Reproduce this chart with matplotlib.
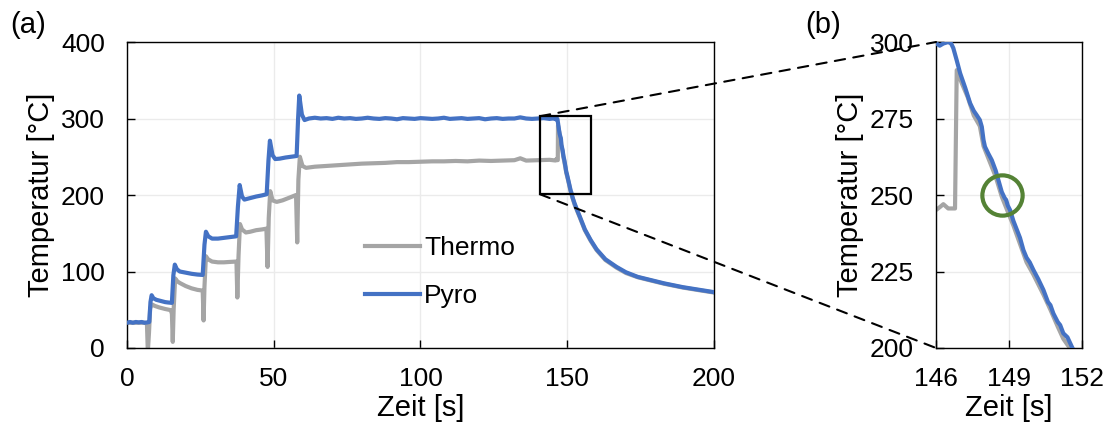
import numpy as np
import matplotlib
matplotlib.use("Agg")
import matplotlib.pyplot as plt
from matplotlib.patches import Rectangle, ConnectionPatch

plt.rcParams['font.family'] = ['Liberation Sans', 'DejaVu Sans']
plt.rcParams['font.size'] = 19

# Pyro (blue)
pyro_t = [0, 1, 2, 3, 4, 5, 6, 7, 7.6,
          8.0, 8.4, 9.0, 10, 11, 12, 13, 14, 15.3,
          15.8, 16.3, 17, 18, 20, 22, 24, 25.8,
          26.4, 26.9, 27.7, 29, 31, 33, 35, 37.2,
          37.8, 38.4, 39.2, 40, 42, 44, 46, 47.6,
          48.2, 48.7, 49.6, 50.5, 52, 54, 56, 57.8,
          58.3, 58.7, 59.6, 60.5, 62, 64, 66, 68, 70, 72, 74, 76, 78, 80,
          82, 84, 86, 88, 90, 92, 94, 96, 98, 100, 102, 104, 106, 108, 110,
          112, 114, 116, 118, 120, 122, 124, 126, 128, 130, 132, 134, 136,
          138, 140, 142, 144, 145,
          146.0, 146.15, 146.3, 146.5, 146.62, 146.71, 146.85, 146.99, 147.2,
          147.4, 147.55, 147.67, 147.8, 147.88, 147.95, 148.01, 148.15, 148.29,
          148.45, 148.56, 148.7, 148.82, 148.88, 148.95, 149.04, 149.18, 149.32,
          149.45, 149.59, 149.72, 149.85, 150.0, 150.2, 150.41, 150.6, 150.7,
          150.82, 151.0, 151.1, 151.23, 151.4, 151.58, 151.8, 152.5,
          153.4, 154.3, 156, 158, 160, 163, 166.8, 170, 174, 178.2, 183,
          189.4, 195, 200]
pyro_T = [33, 34, 33, 34, 33.5, 34, 33, 33.5, 34,
          60, 69, 65, 63, 62, 61, 60, 59.5, 59,
          95, 109, 103, 100, 98.5, 97, 96, 95.5,
          135, 152, 146, 143, 143, 144, 145, 146,
          185, 213, 198, 194, 196, 198, 199.5, 201,
          245, 271, 252, 247, 247.5, 249, 250, 251,
          300, 330, 305, 298, 300, 301, 300, 300.5, 299.5, 301, 300, 300.5, 299.5, 300,
          301, 300, 299.5, 300.5, 300, 299, 300.5, 300, 299.5, 300.5, 300, 299.5, 300, 301, 299.5,
          300, 300.5, 299.5, 300, 300.5, 299, 300, 300.5, 299.5, 300, 300, 301.5, 300,
          299.5, 300, 300.5, 299.5, 300,
          299.6, 298.8, 299.5, 300, 299.5, 298, 294, 289.8, 285,
          280, 277.5, 276.1, 274.5, 272.3, 268, 265.8, 263.5, 261.4,
          258, 254.9, 251, 249, 248.4, 246.5, 245.1, 241.5, 238.6,
          236, 232, 229.5, 228, 225.5, 222.5, 219, 215, 214,
          211.3, 208.5, 207.5, 204.8, 203.5, 200.4, 197, 189,
          180, 171.6, 155, 141, 129, 116, 106, 99, 93, 89, 84.5,
          79.5, 76, 73]

# Thermo (grey)
thermo_t = [0, 2, 4, 6, 6.8, 7.1, 7.5, 7.9, 8.5, 9.5, 11, 13, 14.9,
            15.3, 15.6, 15.9, 16.4, 17.2, 18, 20, 22, 24, 25.8,
            26.1, 26.4, 26.9, 27.6, 29, 31, 33, 35, 37.3,
            37.6, 38.0, 38.5, 39.2, 40.5, 42, 44, 46, 47.5,
            47.9, 48.3, 48.8, 49.6, 51, 53, 55, 57.6,
            58.0, 58.4, 58.9, 59.8, 61, 64, 68, 72, 76, 80, 84, 88, 92, 96, 100,
            104, 108, 112, 116, 120, 124, 128, 132, 134, 136, 140, 144,
            146.0, 146.15, 146.3, 146.5, 146.78, 146.85, 147.06, 147.3, 147.55,
            147.8, 147.95, 148.15, 148.45, 148.7, 148.95, 149.18, 149.45, 149.72,
            150.0, 150.41, 150.7, 151.0, 151.23, 151.58, 152.5, 154.3, 156, 158,
            160, 163, 166.8, 170, 174, 178.2, 183, 189.4, 195, 200]
thermo_T = [33, 33, 33, 33, 32, -5, 20, 52, 57, 55, 53, 51, 49.5,
            45, 8, 50, 91, 87, 85, 81, 78, 76, 75,
            36, 80, 120, 116, 113, 112, 112, 112.5, 113,
            66, 120, 162, 155, 151, 152, 154, 155, 156,
            106, 170, 205, 193, 191, 193, 196, 200,
            138, 220, 250, 238, 235.5, 237, 238, 239, 240, 241, 241.5, 242, 243, 243, 243.5,
            244, 244, 244.5, 244, 245, 244.5, 245, 245.5, 248, 245, 245.5, 246,
            245.1, 246, 247, 245.6, 245.6, 290.8, 286.5, 282, 276,
            272.5, 266, 262, 256, 249.5, 244.5, 240, 234, 228,
            224, 217.5, 212.5, 207, 203, 199, 187.5, 170.5, 154, 140,
            128, 115, 105, 98, 92.5, 88.5, 84, 79, 75.5, 72.5]

box = (140.7, 201, 158, 303)  # x0, y0, x1, y1 of zoom frame
grey = '#A5A5A5'
blue = '#4472C4'

fig = plt.figure(figsize=(11.08, 4.30), dpi=100)
ax1 = fig.add_axes([0.1146, 0.1907, 0.5298, 0.7116])
ax2 = fig.add_axes([0.8448, 0.1907, 0.1318, 0.7116])

for ax in (ax1, ax2):
    ax.plot(thermo_t, thermo_T, color=grey, lw=3, label='Thermo', zorder=2)
    ax.plot(pyro_t, pyro_T, color=blue, lw=3, label='Pyro', zorder=3)
    ax.grid(True, color='#EBEBEB', lw=1)
    ax.set_axisbelow(True)
    ax.tick_params(direction='in', length=6, width=1)
    ax.tick_params(axis='x', pad=14)
    ax.tick_params(axis='y', pad=16)
    for s in ax.spines.values():
        s.set_linewidth(1)
        s.set_color('black')
    ax.set_xlabel('Zeit [s]', fontsize=21, labelpad=2)
    ax.set_ylabel('Temperatur [°C]', fontsize=21, labelpad=4)

ax1.set_xlim(0, 200)
ax1.set_ylim(0, 400)
ax1.set_xticks([0, 50, 100, 150, 200])
ax1.set_yticks([0, 100, 200, 300, 400])

ax2.set_xlim(146, 152)
ax2.set_ylim(200, 300)
ax2.set_xticks([146, 149, 152])
ax2.set_yticks([200, 225, 250, 275, 300])
ax2.plot([148.7], [250], 'o', ms=29, mfc='none', mec='#548235', mew=3, zorder=5)

ax1.add_patch(Rectangle((box[0], box[1]), box[2] - box[0], box[3] - box[1],
                        fill=False, ec='black', lw=1.6, zorder=4))

for yb, ya in ((box[3], 1), (box[1], 0)):
    con = ConnectionPatch(xyA=(box[0], yb), coordsA=ax1.transData,
                          xyB=(0, ya), coordsB=ax2.transAxes,
                          color='black', lw=1.5, ls=(0, (5, 4)), zorder=10)
    fig.add_artist(con)

leg = ax1.legend(loc='center left', bbox_to_anchor=(0.405, 0.248), frameon=False,
                 fontsize=19, handlelength=2.1, handletextpad=0.15,
                 labelspacing=0.9, borderpad=0, borderaxespad=0)
for h in leg.get_lines():
    h.set_linewidth(3)

fig.text(0.009, 0.975, '(a)', fontsize=21, va='top')
fig.text(0.727, 0.975, '(b)', fontsize=21, va='top')

fig.savefig('out.png', dpi=100)
